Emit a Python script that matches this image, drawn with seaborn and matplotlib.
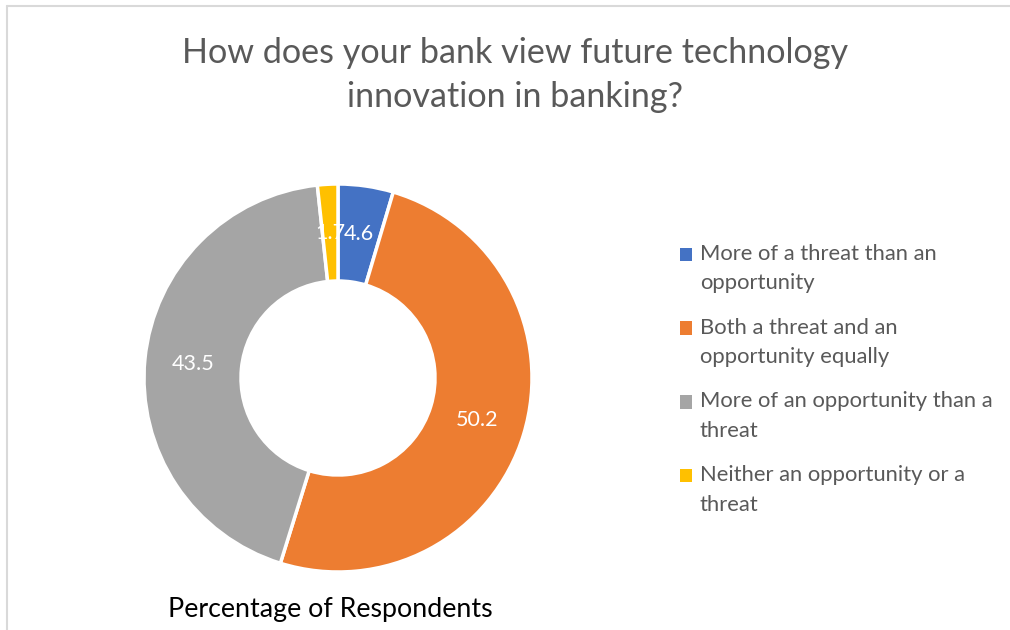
import matplotlib
matplotlib.use("Agg")
import matplotlib.pyplot as plt
import seaborn as sns
from matplotlib.patches import Patch, Rectangle
from matplotlib.lines import Line2D
from matplotlib.legend_handler import HandlerPatch

sns.set_theme(style="white")
plt.rcParams['font.family'] = ['Lato', 'DejaVu Sans']

categories = [
    "More of a threat than an\nopportunity",
    "Both a threat and an\nopportunity equally",
    "More of an opportunity than a\nthreat",
    "Neither an opportunity or a\nthreat",
]
values = [4.6, 50.2, 43.5, 1.7]
value_labels = ["4.6", "50.2", "43.5", "1.7"]
colors = ["#4472C4", "#ED7D31", "#A5A5A5", "#FFC000"]
title = "How does your bank view future technology\ninnovation in banking?"
subtitle = "Percentage of Respondents"

W, H = 1010, 630
fig = plt.figure(figsize=(W / 100, H / 100), dpi=100)
fig.patch.set_facecolor("white")

# chart border (top and left visible)
fig.add_artist(Line2D([7 / W, 7 / W], [0, 1 - 6 / H], color="#D9D9D9", lw=1.5))
fig.add_artist(Line2D([7 / W, 1], [1 - 6 / H, 1 - 6 / H], color="#D9D9D9", lw=1.5))

cx, cy, r = 338, 378, 194
ax = fig.add_axes([(cx - r) / W, (H - cy - r) / H, 2 * r / W, 2 * r / H])
wedges, texts = ax.pie(
    values, colors=colors, startangle=90, counterclock=False,
    radius=1.0, wedgeprops=dict(width=0.5, edgecolor="white", linewidth=2.5),
    labels=value_labels, labeldistance=0.75,
    textprops=dict(color="white", fontsize=15.5),
)
for t in texts:
    t.set_ha("center")
    t.set_va("center")
ax.set_xlim(-1, 1)
ax.set_ylim(-1, 1)
ax.set_aspect("equal")
ax.axis("off")

fig.text(515 / W, 1 - 75 / H, title, ha="center", va="center", fontsize=24.6,
         color="#595959", linespacing=1.45)
fig.text(330 / W, 1 - 610 / H, subtitle, ha="center", va="center", fontsize=19.3,
         color="black")


def top_square(legend, orig_handle, xdescent, ydescent, width, height, fontsize):
    # square aligned with the first line of a two-line label
    return Rectangle((-xdescent, -ydescent + 10.4), width, height)


handles = [Patch(facecolor=c, edgecolor="none") for c in colors]
leg = fig.legend(handles, categories, loc="upper left",
                 bbox_to_anchor=(671 / W, 1 - 235 / H), frameon=False,
                 fontsize=15.8, handlelength=0.57, handleheight=0.57,
                 handletextpad=0.35, labelspacing=1.1, borderaxespad=0,
                 handler_map={Patch: HandlerPatch(patch_func=top_square)})
for t in leg.get_texts():
    t.set_color("#595959")
    t.set_linespacing(1.6)

fig.savefig("out.png", dpi=100, facecolor="white")
